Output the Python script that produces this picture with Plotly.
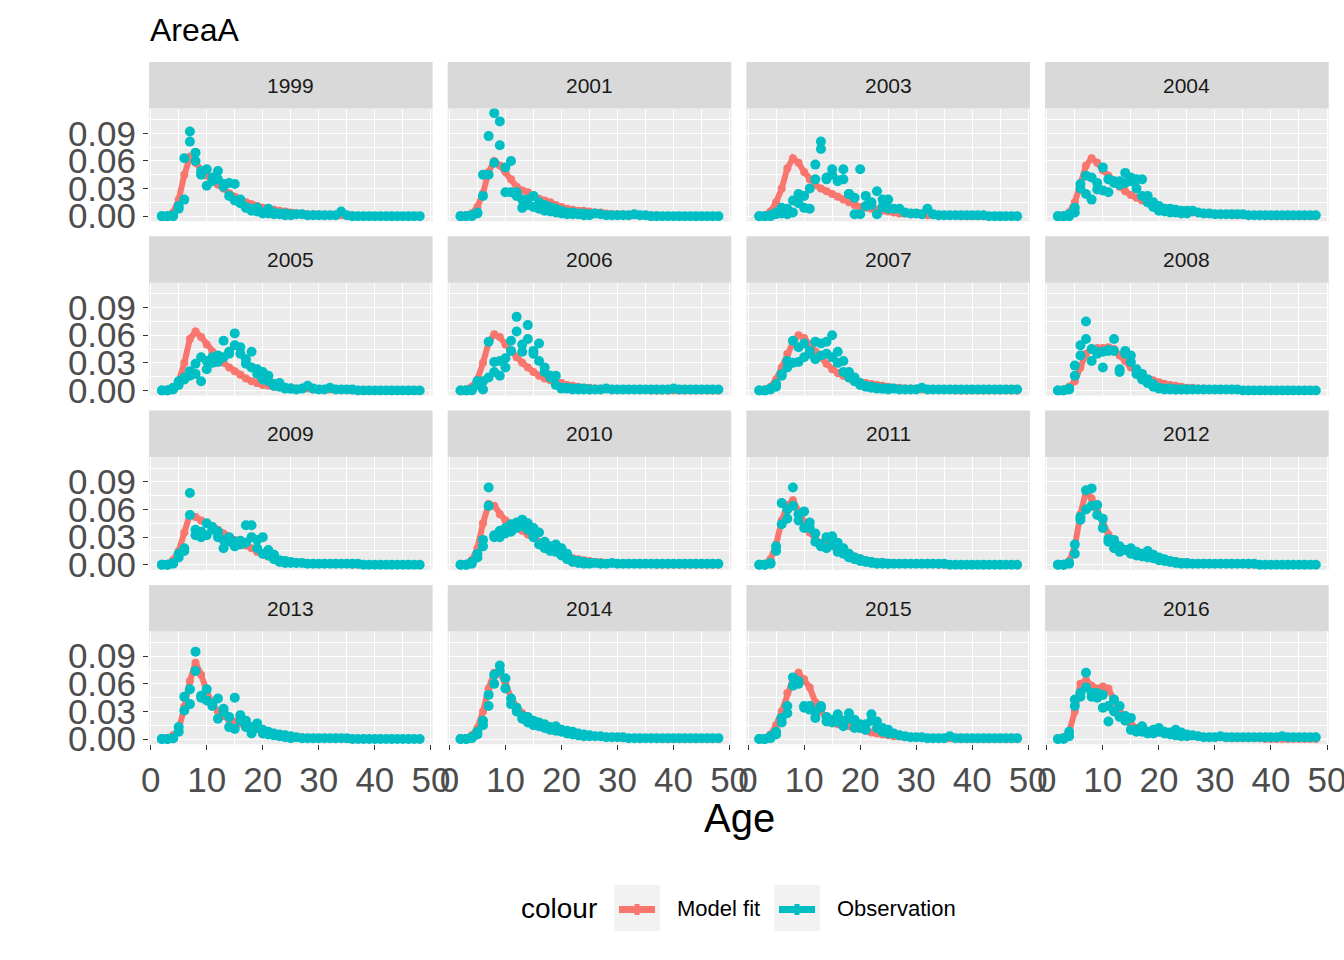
import plotly.graph_objects as go

# ---------------- data ----------------
YEARS = ["1999", "2001", "2003", "2004", "2005", "2006", "2007", "2008",
         "2009", "2010", "2011", "2012", "2013", "2014", "2015", "2016"]
AGES = list(range(2, 49))
Y_TICKS = [0.0, 0.03, 0.06, 0.09]
Y_TICK_LABELS = ["0.00", "0.03", "0.06", "0.09"]
X_TICKS = [0, 10, 20, 30, 40, 50]
X_TICK_LABELS = ["0", "10", "20", "30", "40", "50"]

# model fit, ages 2..48
fit_1999 = [0, .001, .004, .018, .045, .064, .058, .050, .044, .040, .034, .030, .025, .021, .018, .015, .013, .011, .009, .008, .007, .006, .005, .004,
            .003, .003, .002, .002, .002, .001, .001, .001, .001, .001, .001, 0, 0, 0, 0, 0, 0, 0, 0, 0, 0, 0, 0]
fit_2001 = [0, .001, .003, .010, .025, .048, .060, .055, .048, .040, .032, .028, .026, .022, .019, .017, .015, .012, .010, .008, .007, .006, .006, .005,
            .004, .004, .003, .002, .002, .002, .001, .001, .001, .001, .001, .001, 0, 0, 0, 0, 0, 0, 0, 0, 0, 0, 0]
fit_2003 = [0, .001, .005, .015, .030, .052, .063, .058, .048, .040, .034, .030, .027, .024, .021, .018, .015, .012, .010, .009, .008, .007, .006, .005,
            .004, .003, .003, .002, .002, .002, .001, .001, .001, .001, .001, .001, 0, 0, 0, 0, 0, 0, 0, 0, 0, 0, 0]
fit_2004 = [0, .001, .004, .015, .035, .055, .063, .058, .050, .044, .038, .032, .027, .023, .020, .017, .014, .012, .010, .009, .008, .007, .006, .005,
            .004, .004, .003, .003, .002, .002, .002, .001, .001, .001, .001, .001, .001, 0, 0, 0, 0, 0, 0, 0, 0, 0, 0]
fit_2005 = [0, .001, .003, .010, .030, .056, .064, .058, .050, .042, .036, .030, .025, .021, .017, .013, .010, .008, .006, .005, .004, .004, .003, .003,
            .002, .002, .002, .001, .001, .001, .001, .001, .001, .001, 0, 0, 0, 0, 0, 0, 0, 0, 0, 0, 0, 0, 0]
fit_2006 = [0, .001, .004, .012, .030, .052, .061, .058, .050, .043, .036, .030, .025, .020, .016, .013, .011, .009, .008, .006, .005, .004, .003, .003,
            .002, .002, .002, .001, .001, .001, .001, .001, .001, .001, 0, 0, 0, 0, 0, 0, 0, 0, 0, 0, 0, 0, 0]
fit_2007 = [0, .001, .004, .012, .025, .040, .052, .060, .057, .050, .042, .036, .029, .023, .019, .016, .013, .011, .009, .008, .007, .006, .005, .004,
            .003, .003, .002, .002, .002, .001, .001, .001, .001, .001, .001, 0, 0, 0, 0, 0, 0, 0, 0, 0, 0, 0, 0]
fit_2008 = [0, .001, .004, .010, .025, .040, .045, .046, .046, .047, .045, .038, .032, .025, .020, .016, .013, .011, .009, .007, .006, .005, .004, .003,
            .003, .002, .002, .001, .001, .001, .001, .001, .001, 0, 0, 0, 0, 0, 0, 0, 0, 0, 0, 0, 0, 0, 0]
fit_2009 = [0, .001, .005, .015, .035, .055, .052, .048, .045, .042, .038, .034, .030, .027, .024, .021, .018, .014, .011, .009, .007, .005, .004, .003,
            .003, .002, .002, .001, .001, .001, .001, .001, .001, .001, 0, 0, 0, 0, 0, 0, 0, 0, 0, 0, 0, 0, 0]
fit_2010 = [0, .001, .005, .018, .045, .066, .064, .055, .048, .044, .041, .037, .033, .029, .025, .021, .017, .014, .011, .009, .007, .006, .005, .004,
            .003, .003, .002, .002, .001, .001, .001, .001, .001, .001, .001, 0, 0, 0, 0, 0, 0, 0, 0, 0, 0, 0, 0]
fit_2011 = [0, .001, .006, .022, .048, .065, .070, .058, .045, .035, .028, .024, .022, .020, .017, .014, .011, .009, .007, .005, .004, .003, .003, .002,
            .002, .002, .001, .001, .001, .001, .001, .001, 0, 0, 0, 0, 0, 0, 0, 0, 0, 0, 0, 0, 0, 0, 0]
fit_2012 = [0, .001, .004, .020, .055, .080, .072, .058, .044, .033, .025, .020, .017, .015, .013, .011, .009, .008, .007, .006, .005, .004, .003, .003,
            .002, .002, .002, .001, .001, .001, .001, .001, .001, .001, 0, 0, 0, 0, 0, 0, 0, 0, 0, 0, 0, 0, 0]
fit_2013 = [0, .001, .004, .010, .035, .063, .083, .070, .052, .038, .030, .025, .021, .019, .017, .015, .013, .011, .009, .007, .006, .005, .004, .003,
            .002, .002, .001, .001, .001, .001, .001, .001, .001, 0, 0, 0, 0, 0, 0, 0, 0, 0, 0, 0, 0, 0, 0]
fit_2014 = [0, .001, .004, .012, .030, .055, .072, .072, .060, .045, .035, .028, .023, .020, .017, .015, .013, .011, .009, .008, .007, .006, .005, .004,
            .003, .003, .002, .002, .002, .001, .001, .001, .001, .001, .001, .001, 0, 0, 0, 0, 0, 0, 0, 0, 0, 0, 0]
fit_2015 = [0, .001, .005, .015, .030, .050, .065, .072, .065, .056, .040, .030, .022, .018, .016, .015, .014, .013, .011, .009, .007, .006, .005, .004,
            .003, .003, .002, .002, .002, .001, .001, .001, .001, .001, .001, .001, 0, 0, 0, 0, 0, 0, 0, 0, 0, 0, 0]
fit_2016 = [0, .002, .008, .030, .060, .064, .058, .055, .057, .055, .042, .030, .022, .016, .012, .010, .009, .008, .007, .006, .005, .005, .004, .004,
            .003, .003, .002, .002, .002, .002, .001, .001, .001, .001, .001, .001, .001, 0, 0, 0, 0, 0, 0, 0, 0, 0, 0]

# observations (first set), ages 2..48
obs_a_1999 = [0, 0, .001, .008, .063, .092, .069, .049, .051, .042, .049, .035, .036, .035, .018, .009, .008, .009, .004, .008, .004, .003, .003, .002,
              .002, .002, .001, .001, .001, .001, .001, .001, .005, .001, 0, 0, 0, 0, 0, 0, 0, 0, 0, 0, 0, 0, 0]
obs_a_2001 = [0, 0, 0, .004, .022, .045, .112, .103, .053, .060, .026, .009, .018, .022, .015, .012, .010, .008, .006, .004, .004, .003, .003, .002,
              .003, .002, .001, .001, .001, .001, .001, .002, .001, .001, 0, 0, 0, 0, 0, 0, 0, 0, 0, 0, 0, 0, 0]
obs_a_2003 = [0, 0, 0, .004, .009, .002, .017, .024, .022, .030, .056, .081, .040, .051, .039, .051, .024, .002, .051, .022, .012, .027, .018, .018,
              .008, .008, .004, .003, .003, .002, .008, .002, .001, .001, .001, .001, .001, .001, .001, .001, .001, 0, 0, 0, 0, 0, 0]
obs_a_2004 = [0, 0, 0, .009, .035, .044, .042, .029, .053, .040, .036, .034, .047, .042, .040, .040, .022, .015, .011, .008, .008, .007, .006, .006,
              .006, .004, .003, .003, .002, .002, .002, .002, .002, .002, .001, .001, .001, .001, .001, .001, .001, .001, .001, .001, .001, .001, .001]
obs_a_2005 = [0, 0, .003, .010, .012, .021, .029, .036, .023, .036, .038, .054, .042, .062, .047, .034, .042, .023, .020, .016, .007, .008, .003, .002,
              .001, .002, .005, .002, .001, .001, .003, .001, .001, .001, .001, 0, 0, 0, 0, 0, 0, 0, 0, 0, 0, 0, 0]
obs_a_2006 = [0, 0, 0, .010, .001, .053, .031, .032, .025, .054, .080, .042, .071, .043, .051, .025, .014, .016, .003, .003, .002, .002, .002, .001,
              .001, .001, .002, .001, .001, .001, .001, .001, .001, .001, .001, .001, .001, .001, .002, .001, .001, .001, .001, .001, .001, .001, .001]
obs_a_2007 = [0, 0, .001, .007, .018, .032, .054, .047, .051, .043, .053, .051, .053, .060, .042, .032, .020, .014, .008, .005, .004, .003, .002, .002,
              .002, .001, .001, .001, .001, .003, .001, .001, .001, .001, .001, .001, .001, .001, .001, .001, .001, .001, .001, .001, .001, .001, .001]
obs_a_2008 = [0, 0, .001, .027, .049, .075, .032, .042, .025, .043, .056, .020, .043, .038, .023, .018, .012, .007, .003, .002, .002, .001, .001, .001,
              .001, .001, .001, .001, .001, .001, .001, .001, .001, 0, 0, 0, 0, 0, 0, 0, 0, 0, 0, 0, 0, 0, 0]
obs_a_2009 = [0, 0, .002, .012, .018, .078, .038, .030, .045, .041, .036, .027, .030, .025, .022, .043, .043, .027, .030, .016, .011, .005, .004, .003,
              .002, .002, .001, .001, .001, .001, .001, .001, .001, .001, .001, .001, 0, 0, 0, 0, 0, 0, 0, 0, 0, 0, 0]
obs_a_2010 = [0, 0, .003, .012, .027, .084, .032, .037, .040, .044, .046, .049, .045, .040, .035, .025, .020, .022, .018, .012, .005, .004, .003, .002,
              .002, .001, .001, .002, .001, .001, .001, .001, .001, .001, .001, .001, .001, .001, .001, .001, .001, .001, .001, .001, .001, .001, .001]
obs_a_2011 = [0, 0, .002, .020, .067, .060, .084, .055, .058, .040, .034, .022, .030, .031, .024, .018, .012, .008, .006, .004, .003, .002, .002, .001,
              .001, .001, .001, .001, .001, .001, .001, .001, .001, .001, 0, 0, 0, 0, 0, 0, 0, 0, 0, 0, 0, 0, 0]
obs_a_2012 = [0, 0, .002, .022, .049, .081, .083, .065, .050, .028, .027, .020, .016, .018, .014, .012, .015, .011, .008, .006, .004, .003, .002, .002,
              .001, .001, .001, .001, .001, .001, .001, .001, .001, .001, .001, .001, 0, 0, 0, 0, 0, 0, 0, 0, 0, 0, 0]
obs_a_2013 = [0, 0, .001, .013, .046, .054, .095, .047, .054, .036, .044, .033, .024, .045, .026, .020, .013, .017, .010, .008, .006, .005, .004, .003,
              .002, .001, .001, .001, .001, .001, .001, .001, .001, .001, 0, 0, 0, 0, 0, 0, 0, 0, 0, 0, 0, 0, 0]
obs_a_2014 = [0, 0, .002, .008, .020, .048, .070, .080, .066, .044, .034, .025, .024, .020, .018, .016, .013, .014, .010, .009, .008, .006, .005, .004,
              .003, .003, .002, .002, .002, .002, .001, .001, .001, .001, .001, .001, .001, .001, .001, .001, .001, .001, .001, .001, .001, .001, .001]
obs_a_2015 = [0, 0, .003, .008, .023, .036, .067, .063, .036, .036, .023, .036, .019, .021, .027, .014, .028, .021, .012, .016, .027, .019, .012, .010,
              .006, .004, .003, .002, .002, .002, .001, .001, .001, .001, .003, .001, .001, .001, .001, .001, .001, .001, .001, .001, .001, .001, .001]
obs_a_2016 = [0, .001, .008, .043, .050, .072, .050, .050, .048, .036, .043, .036, .025, .023, .008, .014, .008, .010, .012, .008, .007, .010, .007, .005,
              .004, .003, .002, .002, .002, .003, .002, .002, .002, .002, .002, .002, .002, .002, .002, .002, .003, .002, .002, .002, .002, .002, .002]

# observations (second set), ages 2..25
obs_b_1999 = [0, 0, 0, .011, .018, .081, .060, .045, .033, .038, .040, .032, .022, .017, .014, .010, .006, .005, .003, .003, .002, .002, .001, .001]
obs_b_2001 = [0, 0, .001, .003, .045, .087, .058, .077, .026, .026, .022, .018, .012, .010, .008, .006, .005, .004, .003, .002, .002, .002, .001, .001]
obs_b_2003 = [0, 0, .001, .002, .003, .008, .004, .014, .009, .008, .040, .073, .042, .045, .038, .040, .024, .020, .002, .011, .015, .002, .010, .008]
obs_b_2004 = [0, 0, .002, .004, .030, .024, .018, .036, .028, .026, .038, .038, .036, .038, .030, .022, .015, .010, .006, .005, .004, .004, .003, .003]
obs_b_2005 = [0, 0, .001, .006, .014, .016, .018, .010, .032, .030, .031, .036, .040, .049, .040, .029, .025, .018, .012, .010, .005, .004, .002, .002]
obs_b_2006 = [0, 0, .001, .006, .010, .014, .020, .016, .035, .043, .064, .050, .056, .040, .032, .020, .016, .006, .002, .002, .001, .001, .001, .001]
obs_b_2007 = [0, 0, .002, .004, .016, .025, .030, .031, .036, .040, .034, .038, .040, .036, .030, .020, .014, .010, .006, .004, .003, .002, .002, .001]
obs_b_2008 = [0, 0, .002, .016, .038, .056, .045, .040, .042, .044, .043, .023, .040, .031, .018, .012, .008, .004, .002, .001, .001, .001, .001, .001]
obs_b_2009 = [0, 0, .001, .008, .015, .054, .032, .036, .032, .038, .030, .018, .025, .020, .026, .024, .030, .018, .012, .010, .006, .003, .002, .002]
obs_b_2010 = [0, 0, .001, .008, .020, .064, .030, .030, .034, .036, .040, .042, .038, .030, .022, .018, .015, .014, .010, .006, .003, .002, .001, .001]
obs_b_2011 = [0, 0, .001, .015, .044, .050, .064, .048, .040, .046, .025, .020, .018, .022, .014, .012, .008, .006, .004, .003, .002, .001, .001, .001]
obs_b_2012 = [0, 0, .001, .012, .052, .060, .064, .054, .040, .025, .018, .014, .016, .012, .010, .009, .008, .007, .005, .004, .003, .002, .001, .001]
obs_b_2013 = [0, 0, .001, .008, .031, .038, .074, .045, .042, .038, .022, .030, .013, .011, .020, .013, .006, .012, .006, .005, .004, .003, .002, .001]
obs_b_2014 = [0, 0, .001, .005, .015, .036, .060, .074, .055, .038, .030, .022, .018, .015, .014, .012, .010, .009, .008, .006, .005, .004, .003, .003]
obs_b_2015 = [0, 0, .001, .005, .018, .028, .058, .060, .034, .032, .030, .034, .024, .018, .019, .020, .022, .012, .016, .010, .020, .012, .008, .006]
obs_b_2016 = [0, 0, .003, .036, .046, .056, .046, .045, .034, .019, .030, .024, .020, .010, .010, .008, .006, .006, .008, .006, .005, .004, .003, .003]

FITS = [fit_1999, fit_2001, fit_2003, fit_2004, fit_2005, fit_2006, fit_2007, fit_2008,
        fit_2009, fit_2010, fit_2011, fit_2012, fit_2013, fit_2014, fit_2015, fit_2016]
OBS_A = [obs_a_1999, obs_a_2001, obs_a_2003, obs_a_2004, obs_a_2005, obs_a_2006, obs_a_2007, obs_a_2008,
         obs_a_2009, obs_a_2010, obs_a_2011, obs_a_2012, obs_a_2013, obs_a_2014, obs_a_2015, obs_a_2016]
OBS_B = [obs_b_1999, obs_b_2001, obs_b_2003, obs_b_2004, obs_b_2005, obs_b_2006, obs_b_2007, obs_b_2008,
         obs_b_2009, obs_b_2010, obs_b_2011, obs_b_2012, obs_b_2013, obs_b_2014, obs_b_2015, obs_b_2016]

# ---------------- styling / layout ----------------
W, H = 1344, 960
RED = "#F8766D"
CYAN = "#00BFC4"
FONT = "Liberation Sans, Arial, sans-serif"
NCOL, NROW = 4, 4
COL_LEFT0, COL_STEP, COL_W = 149.0, 298.7, 283.6
ROW_TOP0, ROW_STEP, STRIP_H, ROW_H = 62.0, 174.3, 46.5, 159.3
TICK_FONT = 35

fig = go.Figure()
layout = dict(
    width=W, height=H, autosize=False,
    margin=dict(l=0, r=0, t=0, b=0, pad=0, autoexpand=False),
    paper_bgcolor="white", plot_bgcolor="#EBEBEB",
    showlegend=False,
    font=dict(family=FONT, color="#000000"),
)
shapes, annotations = [], []

for i, year in enumerate(YEARS):
    r, c = divmod(i, NCOL)
    left = COL_LEFT0 + c * COL_STEP
    right = left + COL_W
    top = ROW_TOP0 + r * ROW_STEP
    strip_bottom = top + STRIP_H
    panel_bottom = top + ROW_H
    aid = "" if i == 0 else str(i + 1)
    xa, ya = "xaxis" + aid, "yaxis" + aid

    bottom_row = (r == NROW - 1)
    left_col = (c == 0)
    layout[xa] = dict(
        domain=[left / W, right / W], anchor="y" + aid, automargin=False,
        range=[-0.3, 50.3], tickmode="array", tickvals=X_TICKS, ticktext=X_TICK_LABELS,
        showgrid=True, gridcolor="white", gridwidth=1.2, zeroline=False,
        minor=dict(dtick=5, tick0=0, showgrid=True, gridcolor="white", gridwidth=0.6),
        ticks="outside" if bottom_row else "", ticklen=5, tickwidth=1.1, tickcolor="#333333",
        showticklabels=bottom_row, tickfont=dict(size=TICK_FONT, color="#4D4D4D", family=FONT),
        ticklabeloverflow="allow",
        showline=False, fixedrange=True,
    )
    layout[ya] = dict(
        domain=[1 - panel_bottom / H, 1 - strip_bottom / H], anchor="x" + aid, automargin=False,
        range=[-0.0056, 0.117], tickmode="array", tickvals=Y_TICKS, ticktext=Y_TICK_LABELS,
        showgrid=True, gridcolor="white", gridwidth=1.2, zeroline=False,
        minor=dict(tickvals=[0.015, 0.045, 0.075, 0.105], showgrid=True, gridcolor="white", gridwidth=0.6),
        ticks="outside" if left_col else "", ticklen=5, tickwidth=1.1, tickcolor="#333333",
        showticklabels=left_col, tickfont=dict(size=TICK_FONT, color="#4D4D4D", family=FONT),
        ticklabeloverflow="allow",
        showline=False, fixedrange=True,
    )

    # strip
    shapes.append(dict(type="rect", xref="paper", yref="paper",
                       x0=left / W, x1=right / W, y0=1 - strip_bottom / H, y1=1 - top / H,
                       fillcolor="#D9D9D9", line=dict(width=0), layer="below"))
    annotations.append(dict(text=year, xref="paper", yref="paper",
                            x=(left + right) / 2 / W, y=1 - (top + STRIP_H / 2) / H,
                            xanchor="center", yanchor="middle", showarrow=False,
                            font=dict(size=21, color="#1A1A1A", family=FONT)))

    fit = FITS[i]
    oa = OBS_A[i]
    ob = OBS_B[i]
    fig.add_trace(go.Scatter(x=AGES[:len(fit)], y=fit, mode="lines+markers",
                             line=dict(color=RED, width=6), marker=dict(color=RED, size=8),
                             xaxis="x" + aid, yaxis="y" + aid, name="Model fit", hoverinfo="skip"))
    fig.add_trace(go.Scatter(x=AGES[:len(oa)], y=oa, mode="markers",
                             marker=dict(color=CYAN, size=10),
                             xaxis="x" + aid, yaxis="y" + aid, name="Observation", hoverinfo="skip"))
    fig.add_trace(go.Scatter(x=AGES[:len(ob)], y=ob, mode="markers",
                             marker=dict(color=CYAN, size=10),
                             xaxis="x" + aid, yaxis="y" + aid, name="Observation", hoverinfo="skip"))

# title
annotations.append(dict(text="AreaA", xref="paper", yref="paper", x=148 / W, y=1 - 30 / H,
                        xanchor="left", yanchor="middle", showarrow=False,
                        font=dict(size=32, color="#000000", family=FONT)))
# x axis title
annotations.append(dict(text="Age", xref="paper", yref="paper", x=739 / W, y=1 - 818 / H,
                        xanchor="center", yanchor="middle", showarrow=False,
                        font=dict(size=40, color="#000000", family=FONT)))

# legend (drawn manually)
LEG_Y = 908
annotations.append(dict(text="colour", xref="paper", yref="paper", x=519 / W, y=1 - LEG_Y / H,
                        xanchor="left", yanchor="middle", showarrow=False,
                        font=dict(size=28, color="#000000", family=FONT)))
for key_left, color, label in [(614, RED, "Model fit"), (774, CYAN, "Observation")]:
    shapes.append(dict(type="rect", xref="paper", yref="paper",
                       x0=key_left / W, x1=(key_left + 46) / W,
                       y0=1 - (LEG_Y + 23) / H, y1=1 - (LEG_Y - 23) / H,
                       fillcolor="#F2F2F2", line=dict(width=0)))
    shapes.append(dict(type="line", xref="paper", yref="paper",
                       x0=(key_left + 5) / W, x1=(key_left + 41) / W,
                       y0=1 - (LEG_Y + 1.5) / H, y1=1 - (LEG_Y + 1.5) / H,
                       line=dict(color=color, width=7)))
    shapes.append(dict(type="rect", xref="paper", yref="paper",
                       x0=(key_left + 20.5) / W, x1=(key_left + 25.5) / W,
                       y0=1 - (LEG_Y + 7) / H, y1=1 - (LEG_Y - 4) / H,
                       fillcolor=color, line=dict(width=0)))
    annotations.append(dict(text=label, xref="paper", yref="paper", x=(key_left + 61) / W, y=1 - LEG_Y / H,
                            xanchor="left", yanchor="middle", showarrow=False,
                            font=dict(size=22, color="#000000", family=FONT)))

layout["shapes"] = shapes
layout["annotations"] = annotations
fig.update_layout(**layout)
fig.write_html("out.html", config={"displayModeBar": False},
               post_script="document.body.style.margin='0';document.body.style.padding='0';"
                           "document.body.style.overflow='hidden';")
